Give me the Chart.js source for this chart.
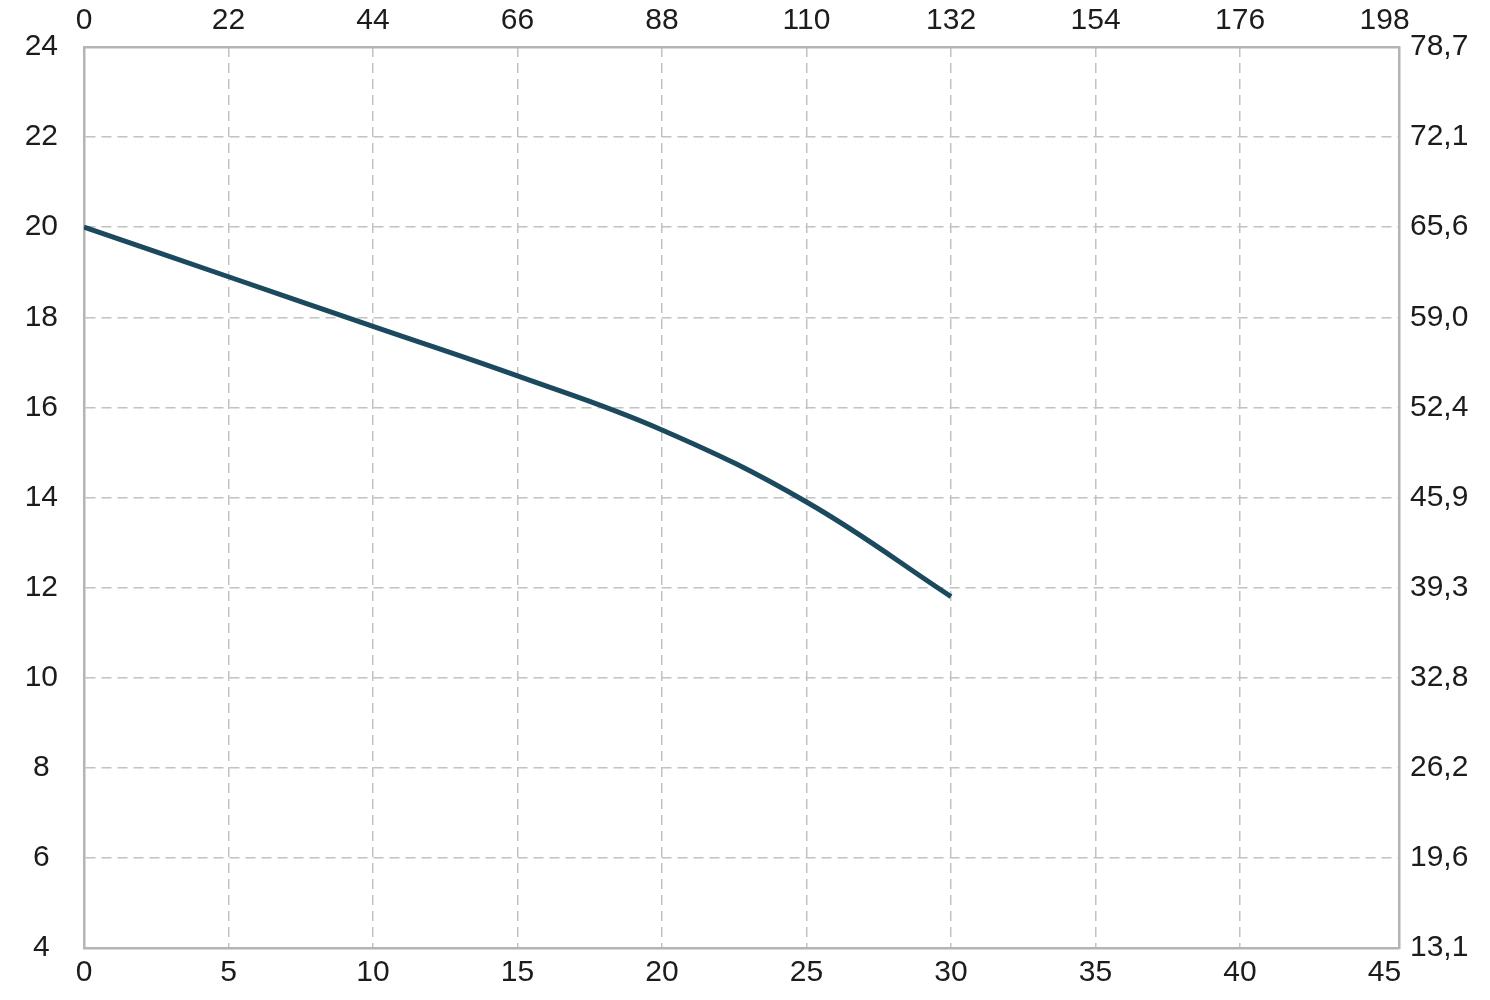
<!DOCTYPE html>
<html>
<head>
<meta charset="utf-8">
<script src="https://cdn.jsdelivr.net/npm/chart.js@4/dist/chart.umd.min.js"></script>
<style>
  html, body { margin: 0; padding: 0; background: #fff; }
  #pumpChart { display: block; }
</style>
</head>
<body>
<canvas id="pumpChart" width="1490" height="1000"></canvas>
<script>
// === Chart data ===
const flowM3h = [0, 5, 10, 15, 20, 25, 30];
const headM = [20.0, 18.9, 17.8, 16.7, 15.5, 13.9, 11.8];

const bottomTicks = [0, 5, 10, 15, 20, 25, 30, 35, 40, 45];
const topLabels = ["0", "22", "44", "66", "88", "110", "132", "154", "176", "198"];
const leftTicks = [4, 6, 8, 10, 12, 14, 16, 18, 20, 22, 24];
const rightLabels = ["13,1", "19,6", "26,2", "32,8", "39,3", "45,9", "52,4", "59,0", "65,6", "72,1", "78,7"];

const gridColor = "#c2c2c2";
const frameColor = "#b4b4b4";
const labelFont = { family: "'Liberation Sans', Arial, sans-serif", size: 30 };
const labelColor = "#1c1c1c";

document.addEventListener("DOMContentLoaded", () => {
  const ctx = document.getElementById("pumpChart").getContext("2d");

  new Chart(ctx, {
    type: "line",
    data: {
      datasets: [
        {
          data: flowM3h.map((x, i) => ({ x: x, y: headM[i] })),
          borderColor: "#1b4a5f",
          borderWidth: 5,
          pointRadius: 0,
          fill: false,
          tension: 0.4,
          xAxisID: "x",
          yAxisID: "y",
        },
      ],
    },
    options: {
      responsive: false,
      animation: false,
      layout: { padding: 0 },
      plugins: { legend: { display: false }, tooltip: { enabled: false } },
      scales: {
        x: {
          type: "linear",
          position: "bottom",
          min: bottomTicks[0],
          max: 45.5,
          afterFit: (s) => { s.height = 52; },
          ticks: {
            stepSize: 5,
            includeBounds: false,
            padding: 7,
            maxRotation: 0,
            font: labelFont,
            color: labelColor,
            callback: (v) => String(v),
          },
          grid: {
            drawTicks: false,
            lineWidth: 1.5,
            color: (c) => (c.tick && c.tick.value === 45 ? "rgba(0,0,0,0)" : gridColor),
          },
          border: { display: true, color: frameColor, width: 2.5, dash: [10, 6] },
        },
        x2: {
          type: "linear",
          position: "top",
          min: bottomTicks[0],
          max: 45.5,
          afterFit: (s) => { s.height = 47; },
          ticks: {
            stepSize: 5,
            includeBounds: false,
            padding: 8,
            maxRotation: 0,
            font: labelFont,
            color: labelColor,
            callback: (v, i) => topLabels[i],
          },
          grid: { display: false, drawTicks: false },
          border: { display: true, color: frameColor, width: 2.5 },
        },
        y: {
          type: "linear",
          position: "left",
          min: leftTicks[0],
          max: leftTicks[leftTicks.length - 1],
          afterFit: (s) => { s.width = 84; },
          ticks: {
            stepSize: 2,
            padding: 26,
            crossAlign: "center",
            font: labelFont,
            color: labelColor,
          },
          grid: { drawTicks: false, lineWidth: 1.5, color: gridColor },
          border: { display: true, color: frameColor, width: 2.5, dash: [10, 6] },
        },
        y2: {
          type: "linear",
          position: "right",
          min: leftTicks[0],
          max: leftTicks[leftTicks.length - 1],
          afterFit: (s) => { s.width = 91; },
          ticks: {
            stepSize: 2,
            padding: 11,
            crossAlign: "near",
            font: labelFont,
            color: labelColor,
            callback: (v, i) => rightLabels[i],
          },
          grid: { display: false, drawTicks: false },
          border: { display: true, color: frameColor, width: 2.5 },
        },
      },
    },
  });
});
</script>
</body>
</html>
